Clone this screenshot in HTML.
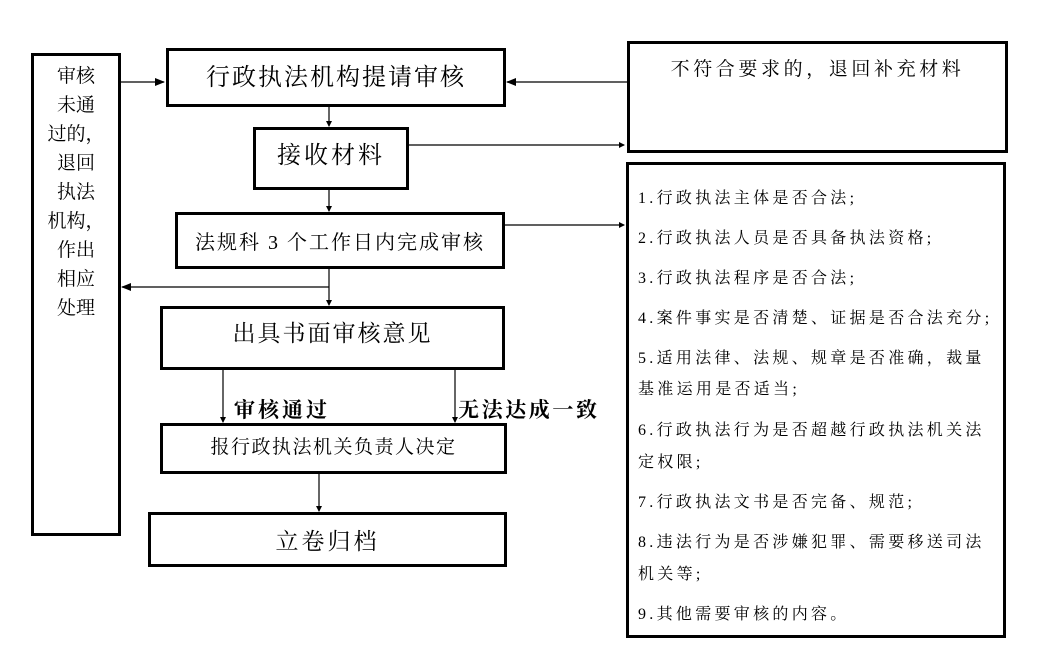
<!DOCTYPE html>
<html><head><meta charset="utf-8"><style>
body{margin:0;width:1038px;height:660px;background:#fff;position:relative;overflow:hidden;font-family:"Liberation Serif","Noto Serif CJK SC",serif;color:#000}
.b{position:absolute;border:3px solid #000;box-sizing:border-box;display:flex;align-items:center;justify-content:center;white-space:nowrap}
.t{position:absolute;white-space:nowrap}
.r{position:absolute;left:638px;font-size:16px;letter-spacing:3.3px;white-space:nowrap}
</style></head><body>
<svg width="1038" height="660" style="position:absolute;left:0;top:0">
<defs><marker id="a" markerWidth="10" markerHeight="8" refX="9" refY="4" orient="auto" markerUnits="userSpaceOnUse"><path d="M0,0L10,4L0,8z" fill="#000"/></marker>
<marker id="s" markerWidth="6" markerHeight="6" refX="5" refY="3" orient="auto" markerUnits="userSpaceOnUse"><path d="M0,0L6,3L0,6z" fill="#000"/></marker></defs>
<g stroke="#000" stroke-width="1.2" fill="none">
<line x1="120" y1="82" x2="164" y2="82" marker-end="url(#a)"/>
<line x1="627" y1="82" x2="507" y2="82" marker-end="url(#a)"/>
<line x1="408" y1="145" x2="624" y2="145" marker-end="url(#s)"/>
<line x1="504" y1="225" x2="624" y2="225" marker-end="url(#s)"/>
<line x1="329" y1="106" x2="329" y2="126" marker-end="url(#s)"/>
<line x1="329" y1="189" x2="329" y2="211" marker-end="url(#s)"/>
<line x1="329" y1="268" x2="329" y2="305" marker-end="url(#s)"/>
<line x1="329" y1="287" x2="122" y2="287" marker-end="url(#a)"/>
<line x1="223" y1="369" x2="223" y2="422" marker-end="url(#s)"/>
<line x1="455" y1="369" x2="455" y2="422" marker-end="url(#s)"/>
<line x1="319" y1="473" x2="319" y2="511" marker-end="url(#s)"/>
</g></svg>
<div class="b" style="left:31px;top:53px;width:90px;height:483px"></div>
<div class="t" style="left:45px;top:62px;width:62px;font-size:19px;line-height:29px;text-align:center;white-space:normal">审核<br>未通<br>过的，<br>退回<br>执法<br>机构，<br>作出<br>相应<br>处理</div>
<div class="b" style="left:166px;top:48px;width:340px;height:59px;font-size:24px;letter-spacing:2px;padding-bottom:6px">行政执法机构提请审核</div>
<div class="b" style="left:253px;top:127px;width:156px;height:63px;font-size:24px;letter-spacing:3px;padding-bottom:12px">接收材料</div>
<div class="b" style="left:175px;top:212px;width:330px;height:57px;font-size:20px;letter-spacing:2px">法规科 3 个工作日内完成审核</div>
<div class="b" style="left:160px;top:306px;width:345px;height:64px;font-size:23px;letter-spacing:2px;padding-bottom:14px">出具书面审核意见</div>
<div class="t" style="left:234px;top:394px;font-size:21px;font-weight:bold;letter-spacing:3px">审核通过</div>
<div class="t" style="left:458px;top:394px;font-size:21px;font-weight:bold;letter-spacing:2.6px">无法达成一致</div>
<div class="b" style="left:160px;top:423px;width:347px;height:51px;font-size:19px;letter-spacing:1.5px;padding-bottom:6px">报行政执法机关负责人决定</div>
<div class="b" style="left:148px;top:512px;width:359px;height:55px;font-size:23px;letter-spacing:3px">立卷归档</div>
<div class="b" style="left:627px;top:41px;width:381px;height:112px;font-size:19px;letter-spacing:3.6px;align-items:flex-start;padding-top:10px">不符合要求的，退回补充材料</div>
<div class="b" style="left:626px;top:162px;width:380px;height:476px"></div>
<div class="r" style="top:185px">1.行政执法主体是否合法;</div>
<div class="r" style="top:225px">2.行政执法人员是否具备执法资格;</div>
<div class="r" style="top:265px">3.行政执法程序是否合法;</div>
<div class="r" style="top:305px">4.案件事实是否清楚、证据是否合法充分;</div>
<div class="r" style="top:345px">5.适用法律、法规、规章是否准确，裁量</div>
<div class="r" style="top:376px">基准运用是否适当;</div>
<div class="r" style="top:417px">6.行政执法行为是否超越行政执法机关法</div>
<div class="r" style="top:449px">定权限;</div>
<div class="r" style="top:489px">7.行政执法文书是否完备、规范;</div>
<div class="r" style="top:529px">8.违法行为是否涉嫌犯罪、需要移送司法</div>
<div class="r" style="top:561px">机关等;</div>
<div class="r" style="top:601px">9.其他需要审核的内容。</div>
</body></html>
